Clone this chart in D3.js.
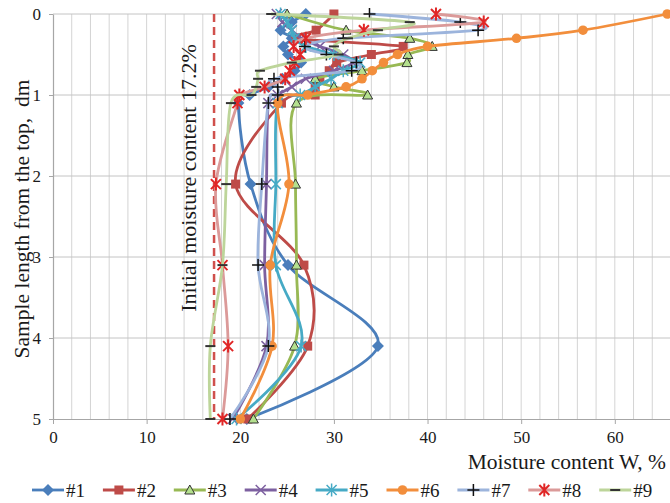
<!DOCTYPE html>
<html>
<head>
<meta charset="utf-8">
<script src="https://cdn.jsdelivr.net/npm/d3@7"></script>
<style>
  body { margin: 0; background: #fff; }
  svg { display: block; font-family: "Liberation Serif", "Times New Roman", serif; }
</style>
</head>
<body>
<svg id="chart" width="670" height="503"></svg>
<script>
// Depth below the top of the sample (dm) at which moisture was measured
const depths = [0, 0.1, 0.2, 0.3, 0.4, 0.5, 0.6, 0.7, 0.8, 0.9, 1.0, 1.1, 2.1, 3.1, 4.1, 5];

// Moisture content W (%) of each sample at those depths (null = not measured)
const w1 = [27.0, 25.5, 24.3, 25.5, 24.6, 25.1, 26.5, 25.8, 24.5, 23.0, 21.0, 19.8, 21.1, 25.1, 34.7, 20.7];
const w2 = [30.0, null, 28.1, 26.0, 37.4, 34.0, 30.3, 29.5, 28.5, 28.0, 28.0, 24.4, 19.5, 26.8, 27.2, 20.8];
const w3 = [25.0, null, 31.3, 38.1, 40.5, 37.9, 37.8, 33.0, 28.0, 30.0, 33.6, 26.0, 25.9, 26.0, 25.8, 21.4];
const w4 = [23.9, 24.5, 25.5, 26.5, 28.5, 31.0, 32.0, 30.0, 27.0, 25.5, 24.0, 23.0, 22.8, 22.6, 22.8, 19.2];
const w5 = [24.3, 25.0, 25.5, 25.8, 27.0, 30.0, 32.8, 31.0, 29.7, 28.0, 26.4, 24.0, 23.8, 23.8, 26.5, 19.6];
const w6 = [65.6, null, 56.6, 49.5, 40.0, 36.8, 35.3, 34.1, 33.0, 31.3, 27.2, 24.0, 25.2, 23.2, 23.4, 20.0];
const w7 = [33.8, 43.5, 45.4, 31.0, 26.9, 29.2, 32.4, 31.9, 23.6, 24.0, 24.0, 23.0, 22.3, 21.9, 23.0, 18.9];
const w8 = [40.9, 46.0, 33.2, 27.0, 25.7, 26.4, 25.8, 25.3, 24.8, 22.6, 19.9, 19.7, 17.4, 18.1, 18.7, 18.1];
const w9 = [23.3, 38.1, 34.7, 31.5, 30.0, 30.5, 25.5, 22.1, 21.9, 21.7, 21.2, 19.0, 18.5, 18.1, 16.8, 16.8];

const seriesNames = ["#1", "#2", "#3", "#4", "#5", "#6", "#7", "#8", "#9"];
const xTicks = [0, 10, 20, 30, 40, 50, 60];
const yTicks = [0, 1, 2, 3, 4, 5];
const initialMoisture = 17.2;

// Styling for each sample: line colour, marker shape and marker colour
const lineColors = ["#4A7EBB", "#BE4B48", "#98B954", "#7D60A0", "#46AAC5", "#F28E3C", "#9CB4DC", "#DB9A99", "#BDD59A"];
const markerShapes = ["diamond", "square", "triangle", "cross", "star", "circle", "plus", "star", "dash"];
const markerColors = ["#4A7EBB", "#BE4B48", "#333333", "#7D60A0", "#46AAC5", "#F28E3C", "#111111", "#E02626", "#333333"];

const values = [w1, w2, w3, w4, w5, w6, w7, w8, w9];
const series = seriesNames.map((name, i) => ({
  name,
  color: lineColors[i],
  shape: markerShapes[i],
  mColor: markerColors[i],
  points: depths.map((d, j) => ({ d, w: values[i][j] })).filter(p => p.w != null)
}));

const svg = d3.select("#chart");
const x = d3.scaleLinear().domain([0, 66]).range([53, 671]);
const y = d3.scaleLinear().domain([0, 5]).range([14, 419]);
const textColor = "#1a1a1a";
const serif = "'Liberation Serif', 'Times New Roman', serif";

// Vertical minor gridlines every 2 %
svg.append("g").selectAll("line")
  .data(d3.range(2, 66, 2))
  .join("line")
  .attr("x1", d => x(d)).attr("x2", d => x(d))
  .attr("y1", y(0)).attr("y2", y(5))
  .attr("stroke", "#d4d4d4").attr("stroke-width", 1);

// Horizontal gridlines at each decimetre
svg.append("g").selectAll("line")
  .data(yTicks.slice(0, -1))
  .join("line")
  .attr("x1", x(0)).attr("x2", 671)
  .attr("y1", d => y(d)).attr("y2", d => y(d))
  .attr("stroke", "#c4c4c4").attr("stroke-width", 1);

// Axes
const xAxis = svg.append("g")
  .attr("transform", `translate(0,${y(5)})`)
  .call(d3.axisBottom(x).tickValues(xTicks).tickFormat(d3.format("d"))
    .tickSize(5).tickSizeOuter(0).tickPadding(7));
const yAxis = svg.append("g")
  .attr("transform", `translate(${x(0)},0)`)
  .call(d3.axisLeft(y).tickValues(yTicks).tickFormat(d3.format("d"))
    .tickSize(4).tickSizeOuter(0).tickPadding(8));
[xAxis, yAxis].forEach(g => {
  g.attr("font-family", serif).attr("font-size", 17);
  g.select(".domain").attr("stroke", "#a6a6a6").attr("stroke-width", 1.2);
  g.selectAll(".tick line").attr("stroke", "#a6a6a6");
  g.selectAll(".tick text").attr("fill", textColor);
});

// Initial moisture reference line
svg.append("line")
  .attr("x1", x(initialMoisture)).attr("x2", x(initialMoisture))
  .attr("y1", y(0)).attr("y2", y(5))
  .attr("stroke", "#D0504C").attr("stroke-width", 2.5)
  .attr("stroke-dasharray", "8,5");

svg.append("text")
  .attr("transform", `translate(196,178) rotate(-90)`)
  .attr("text-anchor", "middle")
  .attr("fill", textColor).style("font-size", "22px")
  .text("Initial moisture content 17.2%");

// Axis titles
svg.append("text")
  .attr("transform", `translate(29,219) rotate(-90)`)
  .attr("text-anchor", "middle")
  .attr("fill", textColor).style("font-size", "21.5px")
  .text("Sample length from the top,\u00a0 dm");

svg.append("text")
  .attr("x", 666).attr("y", 469)
  .attr("text-anchor", "end")
  .attr("fill", textColor).style("font-size", "21.5px")
  .text("Moisture content W, %");

// Marker drawing
function drawMarker(g, shape, color, cx, cy) {
  const s = g.append("g").attr("transform", `translate(${cx},${cy})`);
  switch (shape) {
    case "diamond":
      s.append("path").attr("d", "M0,-6L6,0L0,6L-6,0Z").attr("fill", color);
      break;
    case "square":
      s.append("rect").attr("x", -4.5).attr("y", -4.5).attr("width", 9).attr("height", 9).attr("fill", color);
      break;
    case "triangle":
      s.append("path").attr("d", "M0,-5L5,4L-5,4Z")
        .attr("fill", "#B4E08E").attr("stroke", color).attr("stroke-width", 1);
      break;
    case "circle":
      s.append("circle").attr("r", 4.8).attr("fill", color);
      break;
    case "cross":
      s.append("path").attr("d", "M-5,-5L5,5M-5,5L5,-5")
        .attr("stroke", color).attr("stroke-width", 1.5).attr("fill", "none");
      break;
    case "star":
      s.append("path").attr("d", "M-5,-5L5,5M-5,5L5,-5M0,-6.5L0,6.5")
        .attr("stroke", color).attr("stroke-width", color === "#E02626" ? 2 : 1.5).attr("fill", "none");
      break;
    case "plus":
      s.append("path").attr("d", "M-6,0L6,0M0,-6L0,6")
        .attr("stroke", color).attr("stroke-width", 1.5).attr("fill", "none");
      break;
    case "dash":
      s.append("path").attr("d", "M-5,0L5,0")
        .attr("stroke", color).attr("stroke-width", 2).attr("fill", "none");
      break;
  }
}

// Smoothed profile lines with markers
const line = d3.line()
  .x(p => x(p.w))
  .y(p => y(p.d))
  .curve(d3.curveCardinal.tension(0));

const plot = svg.append("g");
series.forEach(s => {
  const g = plot.append("g");
  g.append("path")
    .attr("d", line(s.points))
    .attr("fill", "none")
    .attr("stroke", s.color)
    .attr("stroke-width", 2.8)
    .attr("stroke-linejoin", "round");
  s.points.forEach(p => drawMarker(g, s.shape, s.mColor, x(p.w), y(p.d)));
});

// Legend
const legend = svg.append("g");
series.forEach((s, i) => {
  const x0 = 32 + i * 70.9;
  const g = legend.append("g");
  g.append("line")
    .attr("x1", x0).attr("x2", x0 + 32)
    .attr("y1", 490).attr("y2", 490)
    .attr("stroke", s.color).attr("stroke-width", 2.8);
  drawMarker(g, s.shape, s.mColor, x0 + 16, 490);
  g.append("text")
    .attr("x", x0 + 34).attr("y", 496.5)
    .attr("fill", textColor).style("font-size", "19px")
    .text(s.name);
});
</script>
</body>
</html>
